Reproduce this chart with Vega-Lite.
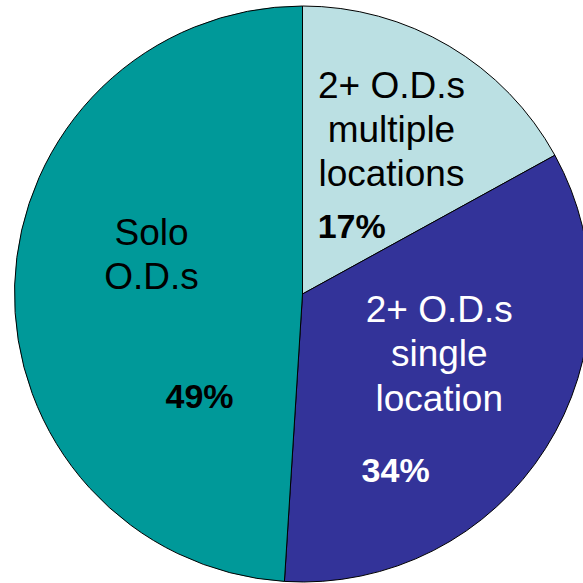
{
  "$schema": "https://vega.github.io/schema/vega-lite/v6.json",
  "width": 583,
  "height": 583,
  "autosize": {"type": "none"},
  "padding": 0,
  "background": "white",
  "config": {"view": {"stroke": null}},
  "data": {
    "values": [
      {"n": 1, "group": "2+ O.D.s multiple locations", "lines": ["2+ O.D.s", "multiple", "locations"], "share": 0.17},
      {"n": 2, "group": "2+ O.D.s single location", "lines": ["2+ O.D.s", "single", "location"], "share": 0.34},
      {"n": 3, "group": "Solo O.D.s", "lines": ["Solo", "O.D.s"], "share": 0.49}
    ]
  },
  "encoding": {
    "theta": {"field": "share", "type": "quantitative", "stack": true},
    "order": {"field": "n", "type": "quantitative"}
  },
  "layer": [
    {
      "mark": {"type": "arc", "x": 302.5, "y": 294, "radius": 288, "stroke": "black", "strokeWidth": 1},
      "encoding": {
        "color": {
          "field": "group",
          "type": "nominal",
          "scale": {
            "domain": ["2+ O.D.s multiple locations", "2+ O.D.s single location", "Solo O.D.s"],
            "range": ["#BBE0E3", "#333399", "#009999"]
          },
          "legend": null
        }
      }
    },
    {
      "mark": {"type": "text", "x": 302.5, "y": 294, "radius": 214, "dx": -20, "dy": -12, "align": "center", "baseline": "alphabetic", "font": "Arial, Liberation Sans", "fontSize": 37, "lineHeight": 44.3, "color": "black"},
      "encoding": {"text": {"condition": {"test": "datum.n == 1", "field": "lines", "type": "nominal"}, "value": ""}}
    },
    {
      "mark": {"type": "text", "x": 302.5, "y": 294, "radius": 73, "dx": 12, "dy": 7, "align": "center", "baseline": "alphabetic", "font": "Arial, Liberation Sans", "fontSize": 34, "fontWeight": "bold", "color": "black"},
      "encoding": {"text": {"condition": {"test": "datum.n == 1", "field": "share", "type": "quantitative", "format": ".0%"}, "value": ""}}
    },
    {
      "mark": {"type": "text", "x": 302.5, "y": 294, "radius": 130, "dx": 27, "dy": -42, "align": "center", "baseline": "alphabetic", "font": "Arial, Liberation Sans", "fontSize": 37, "lineHeight": 44.6, "color": "white"},
      "encoding": {"text": {"condition": {"test": "datum.n == 2", "field": "lines", "type": "nominal"}, "value": ""}}
    },
    {
      "mark": {"type": "text", "x": 302.5, "y": 294, "radius": 179, "dx": -58, "dy": 92, "align": "center", "baseline": "alphabetic", "font": "Arial, Liberation Sans", "fontSize": 34, "fontWeight": "bold", "color": "white"},
      "encoding": {"text": {"condition": {"test": "datum.n == 2", "field": "share", "type": "quantitative", "format": ".0%"}, "value": ""}}
    },
    {
      "mark": {"type": "text", "x": 302.5, "y": 294, "radius": 152, "dx": 1, "dy": -44, "align": "center", "baseline": "alphabetic", "font": "Arial, Liberation Sans", "fontSize": 37, "lineHeight": 43.6, "color": "black"},
      "encoding": {"text": {"condition": {"test": "datum.n == 3", "field": "lines", "type": "nominal"}, "value": ""}}
    },
    {
      "mark": {"type": "text", "x": 302.5, "y": 294, "radius": 99, "dx": -4, "dy": 117, "align": "center", "baseline": "alphabetic", "font": "Arial, Liberation Sans", "fontSize": 34, "fontWeight": "bold", "color": "black"},
      "encoding": {"text": {"condition": {"test": "datum.n == 3", "field": "share", "type": "quantitative", "format": ".0%"}, "value": ""}}
    }
  ]
}
